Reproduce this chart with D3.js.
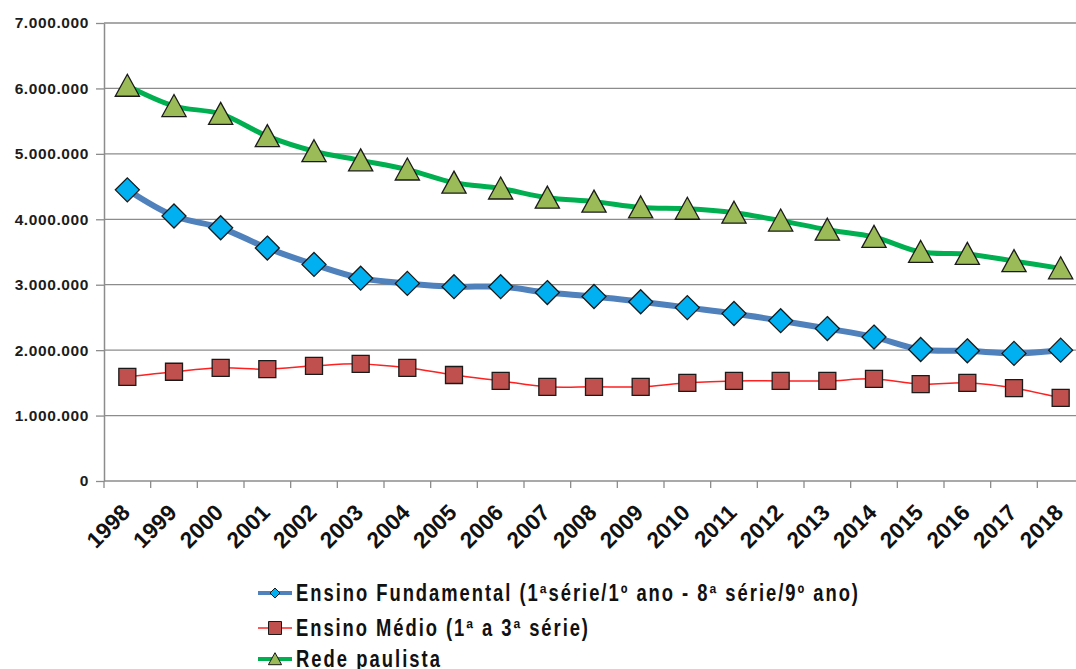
<!DOCTYPE html>
<html>
<head>
<meta charset="utf-8">
<script src="https://cdn.jsdelivr.net/npm/d3@7"></script>
<style>
  body { margin: 0; background: #fff; }
  svg { display: block; }
</style>
</head>
<body>
<svg id="chart"></svg>
<script>
// categories and series
const years = ["1998", "1999", "2000", "2001", "2002", "2003", "2004", "2005", "2006", "2007",
    "2008", "2009", "2010", "2011", "2012", "2013", "2014", "2015", "2016", "2017", "2018"];
const fundamental = [4450000, 4050000, 3870000, 3560000, 3310000, 3100000, 3020000, 2970000, 2970000, 2880000,
    2820000, 2740000, 2650000, 2560000, 2450000, 2330000, 2200000, 2010000, 1990000, 1950000, 2000000];
const medio = [1590000, 1670000, 1730000, 1710000, 1760000, 1790000, 1730000, 1620000, 1530000, 1440000,
    1440000, 1440000, 1500000, 1530000, 1530000, 1530000, 1560000, 1480000, 1500000, 1420000, 1270000];
const paulista = [6040000, 5730000, 5610000, 5270000, 5040000, 4900000, 4760000, 4560000, 4470000, 4330000,
    4270000, 4180000, 4160000, 4100000, 3980000, 3840000, 3730000, 3500000, 3470000, 3360000, 3250000];
const yTicks = [0, 1000000, 2000000, 3000000, 4000000, 5000000, 6000000, 7000000];
const legendLabels = ["Ensino Fundamental (1ªsérie/1º ano - 8ª série/9º ano)",
    "Ensino Médio (1ª a 3ª série)", "Rede paulista"];

var size = { width: 1076, height: 669 };

var svg = d3.select("#chart")
    .attr("width", size.width)
    .attr("height", size.height)
    .style("font-family", "'Liberation Sans', Arial, sans-serif");

var x = d3.scaleBand().domain(years).range([104, 1084]).padding(0);
var y = d3.scaleLinear().domain([0, 7000000]).range([481, 23]);

var fmt = d => d3.format(",")(d).replace(/,/g, ".");

// gridlines
svg.append("g")
    .selectAll("line")
    .data(yTicks.slice(1))
    .enter()
    .append("line")
    .attr("x1", 104).attr("x2", size.width)
    .attr("y1", d => y(d)).attr("y2", d => y(d))
    .attr("stroke", "#8c8c8c")
    .attr("stroke-width", 1.3);

// y axis
var yAxis = svg.append("g")
    .attr("transform", "translate(104,0)")
    .call(d3.axisLeft(y).tickValues(yTicks).tickFormat(fmt).tickSize(8).tickSizeOuter(0));
yAxis.select(".domain").attr("stroke", "#8c8c8c").attr("stroke-width", 1.5);
yAxis.selectAll(".tick line").attr("stroke", "#8c8c8c").attr("stroke-width", 1.3);
yAxis.selectAll(".tick text")
    .attr("x", -15)
    .attr("font-size", 15.5)
    .attr("font-weight", "bold")
    .attr("fill", "#1c1c1c")
    .attr("font-family", "'Liberation Sans', Arial, sans-serif")
    .style("letter-spacing", "0.6px");

// x axis
var xAxis = svg.append("g")
    .attr("transform", "translate(0,481)");
xAxis.append("line")
    .attr("x1", 104).attr("x2", size.width)
    .attr("stroke", "#8c8c8c").attr("stroke-width", 1.5);
xAxis.selectAll(".xtick")
    .data(years)
    .enter()
    .append("line")
    .attr("class", "xtick")
    .attr("x1", d => x(d)).attr("x2", d => x(d))
    .attr("y1", 0).attr("y2", 7)
    .attr("stroke", "#8c8c8c").attr("stroke-width", 1.3);
xAxis.selectAll(".xlabel")
    .data(years)
    .enter()
    .append("text")
    .attr("class", "xlabel")
    .attr("transform", d => "translate(" + (x(d) + x.bandwidth() / 2 + 4) + ",33) rotate(-45)")
    .attr("text-anchor", "end")
    .attr("font-size", 22.5)
    .attr("font-weight", "bold")
    .attr("fill", "#111")
    .text(d => d);

var cx = d => x(d) + x.bandwidth() / 2;

var series = [
    { values: fundamental, line: "#4f81bd", width: 6, fill: "#00b0f0", shape: "diamond" },
    { values: medio, line: "#ff2020", width: 1.5, fill: "#c0504d", shape: "square" },
    { values: paulista, line: "#00b050", width: 5, fill: "#9bbb59", shape: "triangle" }
];

var lineGen = d3.line()
    .x((d, i) => cx(years[i]))
    .y(d => y(d))
    .curve(d3.curveCatmullRom);

function markerPath(shape, s) {
    if (shape === "diamond") return "M0," + (-s) + "L" + s + ",0L0," + s + "L" + (-s) + ",0Z";
    if (shape === "square") return "M" + (-s) + "," + (-s) + "h" + 2 * s + "v" + 2 * s + "h" + (-2 * s) + "Z";
    return "M0," + (-s * 1.05) + "L" + (s * 1.1) + "," + (s * 0.95) + "L" + (-s * 1.1) + "," + (s * 0.95) + "Z";
}
var markerSize = { diamond: 12, square: 8.5, triangle: 11 };

series.forEach(function(s) {
    var g = svg.append("g");
    g.append("path")
        .attr("d", lineGen(s.values))
        .attr("fill", "none")
        .attr("stroke", s.line)
        .attr("stroke-width", s.width)
        .attr("stroke-linejoin", "round");
    g.selectAll(".marker")
        .data(s.values)
        .enter()
        .append("path")
        .attr("class", "marker")
        .attr("transform", (d, i) => "translate(" + cx(years[i]) + "," + y(d) + ")")
        .attr("d", markerPath(s.shape, markerSize[s.shape]))
        .attr("fill", s.fill)
        .attr("stroke", "#1a1a1a")
        .attr("stroke-width", 1.3);
});

// legend (narrow glyphs, emulated by squeezing a regular face)
var legendY = [593, 628, 659];
var legendWidths = [562, 292, 144];
var squeeze = 0.8;
var legendMarker = { diamond: 5, square: 6.5, triangle: 6 };
series.forEach(function(s, i) {
    var g = svg.append("g").attr("transform", "translate(0," + legendY[i] + ")");
    g.append("line")
        .attr("x1", 258).attr("x2", 292)
        .attr("stroke", s.line)
        .attr("stroke-width", Math.min(s.width, 4));
    g.append("path")
        .attr("transform", "translate(275,0)")
        .attr("d", markerPath(s.shape, legendMarker[s.shape]))
        .attr("fill", s.fill)
        .attr("stroke", "#1a1a1a")
        .attr("stroke-width", 1);
    g.append("text")
        .attr("transform", "translate(296,0) scale(" + squeeze + ",1)")
        .attr("dy", "0.36em")
        .attr("font-size", 23)
        .attr("font-weight", "bold")
        .attr("fill", "#111")
        .attr("textLength", legendWidths[i] / squeeze)
        .attr("lengthAdjust", "spacing")
        .text(legendLabels[i]);
});
</script>
</body>
</html>
